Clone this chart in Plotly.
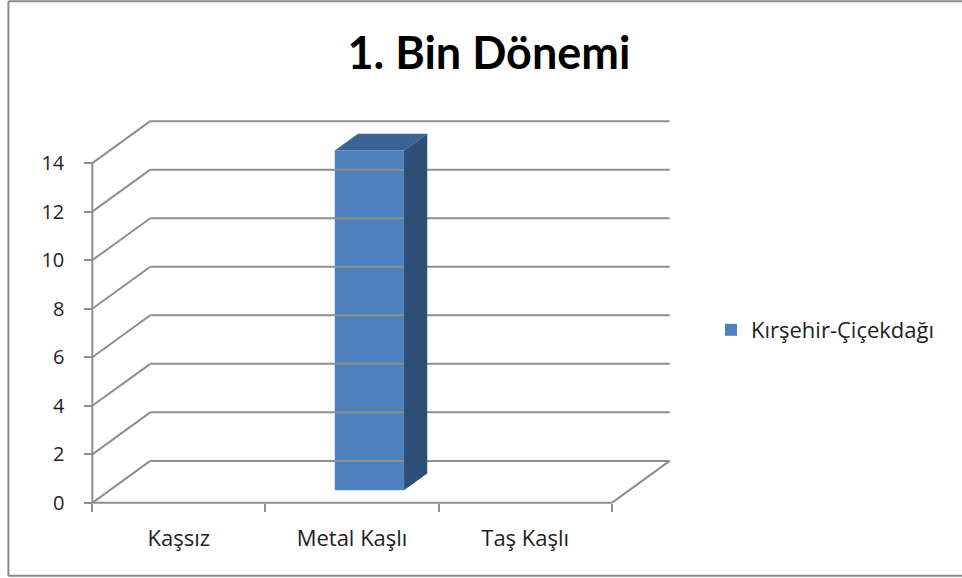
import plotly.graph_objects as go

# ---------------- data ----------------
categories = ["Kaşsız", "Metal Kaşlı", "Taş Kaşlı"]
series_name = "Kırşehir-Çiçekdağı"
values = [0, 14, 0]
y_ticks = [0, 2, 4, 6, 8, 10, 12, 14]
title_text = "1. Bin Dönemi"

# ---------------- geometry (pixels) ----------------
W, H = 962, 578
X0_PX, X3_PX = 92, 612          # front x axis from category 0 edge to category 3 edge
Y0_PX, Y14_PX = 503, 163        # front y axis 0 .. 14
DEPTH_PX_X, DEPTH_PX_Y = 58, 42 # 3-D depth shift

n = len(categories)
ymax_tick = y_ticks[-1]
pxu_x = (X3_PX - X0_PX) / n
pxu_y = (Y0_PX - Y14_PX) / ymax_tick
dx = DEPTH_PX_X / pxu_x
dy = DEPTH_PX_Y / pxu_y

xpad, ypad = 0.1, 0.5
xr = [-xpad, n + dx + xpad]
yr = [-ypad, ymax_tick + dy + ypad]
ml = X0_PX - xpad * pxu_x
pw = (xr[1] - xr[0]) * pxu_x
mr = W - ml - pw
mb = H - (Y0_PX + ypad * pxu_y)
ph = (yr[1] - yr[0]) * pxu_y
mt = H - mb - ph


def px_x(p):
    return (p - ml) / pw


def px_y(p):
    return (H - p - mb) / ph


GRID = "#8e8e8e"
FRONT = "#4F81BD"
TOP = "#3B6393"
SIDE = "#2E4F78"
FONT = "Open Sans"
TXT = "#1e1e1e"
BORDER = "#8a8a8a"

fig = go.Figure()

# back wall gridlines + diagonals on left side wall
gx, gy = [], []
for v in y_ticks:
    gx += [dx, n + dx, None, 0, dx, None]
    gy += [v + dy, v + dy, None, v, v + dy, None]
# floor right diagonal and front edges
gx += [n, n + dx, None, 0, n, None, 0, 0, None]
gy += [0, dy, None, 0, 0, None, 0, ymax_tick, None]
fig.add_trace(go.Scatter(x=gx, y=gy, mode="lines", line=dict(color=GRID, width=2),
                         hoverinfo="skip", showlegend=False))

# bars
f0, f1, bw = 0.3, 0.7, 0.4
front_x = [i + 0.5 + f0 * dx for i in range(n)]
fig.add_trace(go.Bar(x=front_x, y=values, base=[f0 * dy] * n, width=bw,
                     marker=dict(color=FRONT, line=dict(width=0)),
                     name=series_name, showlegend=True))
for i, v in enumerate(values):
    if v <= 0:
        continue
    xl = i + 0.5 - bw / 2
    xrr = i + 0.5 + bw / 2
    # top face
    fig.add_trace(go.Scatter(
        x=[xl + f0 * dx, xrr + f0 * dx, xrr + f1 * dx, xl + f1 * dx, xl + f0 * dx],
        y=[v + f0 * dy, v + f0 * dy, v + f1 * dy, v + f1 * dy, v + f0 * dy],
        fill="toself", fillcolor=TOP, mode="lines", line=dict(width=0, color=TOP),
        hoverinfo="skip", showlegend=False))
    # side face
    fig.add_trace(go.Scatter(
        x=[xrr + f0 * dx, xrr + f1 * dx, xrr + f1 * dx, xrr + f0 * dx, xrr + f0 * dx],
        y=[f0 * dy, f1 * dy, v + f1 * dy, v + f0 * dy, f0 * dy],
        fill="toself", fillcolor=SIDE, mode="lines", line=dict(width=0, color=SIDE),
        hoverinfo="skip", showlegend=False))

border = dict(type="line", xref="paper", yref="paper", line=dict(color=BORDER, width=2),
              layer="below")
fig.update_layout(
    width=W, height=H,
    margin=dict(l=ml, r=mr, t=mt, b=mb, autoexpand=False),
    paper_bgcolor="white", plot_bgcolor="rgba(0,0,0,0)",
    barmode="overlay",
    title=dict(text="<b>" + title_text + "</b>", x=489 / W, xref="container", xanchor="center",
               y=1 - 53 / H, yref="container", yanchor="middle",
               font=dict(family="Lato", size=45, color="black")),
    legend=dict(x=711 / W, xref="container", xanchor="left", y=1 - 330 / H, yref="container",
                yanchor="middle", font=dict(family=FONT, size=22, color=TXT),
                bgcolor="rgba(0,0,0,0)", itemwidth=30),
    xaxis=dict(range=xr, anchor="free", position=(0 - yr[0]) / (yr[1] - yr[0]),
               showgrid=False, zeroline=False, showline=False,
               tickmode="array", tickvals=[i + 0.5 for i in range(n)], ticktext=categories,
               ticks="", ticklabelstandoff=20,
               tickfont=dict(family=FONT, size=22, color=TXT),
               minor=dict(tickmode="array", tickvals=list(range(n + 1)), ticks="outside",
                          ticklen=8, tickwidth=2, tickcolor=GRID, showgrid=False)),
    yaxis=dict(range=yr, anchor="free", position=(0 - xr[0]) / (xr[1] - xr[0]),
               showgrid=False, zeroline=False, showline=False,
               tickmode="array", tickvals=y_ticks, ticks="outside", ticklen=8, tickwidth=2,
               tickcolor=GRID, ticklabelstandoff=16,
               tickfont=dict(family=FONT, size=20, color=TXT)),
    shapes=[
        dict(border, x0=px_x(8), x1=px_x(8), y0=px_y(576), y1=px_y(1)),
        dict(border, x0=px_x(8), x1=px_x(W + 5), y0=px_y(1), y1=px_y(1)),
        dict(border, x0=px_x(8), x1=px_x(W + 5), y0=px_y(576), y1=px_y(576)),
    ],
)

fig.write_html("out.html", config={"displayModeBar": False},
               post_script="document.body.style.margin='0';document.body.style.overflow='hidden';")
